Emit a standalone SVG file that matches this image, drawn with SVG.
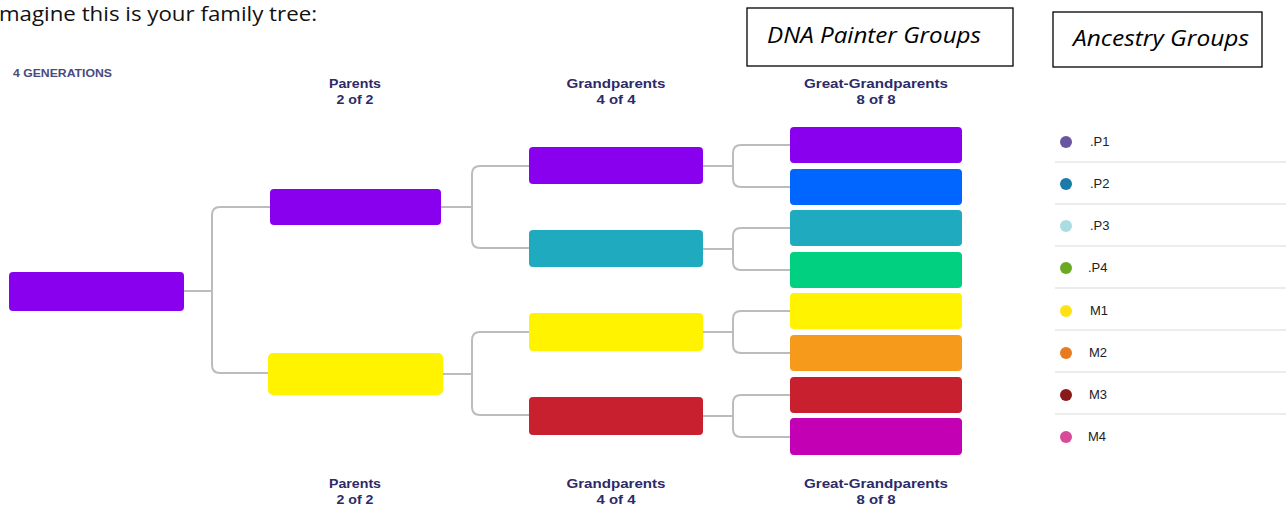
<svg xmlns="http://www.w3.org/2000/svg" width="1286" height="508" viewBox="0 0 1286 508">
<style>
.hdr{font-family:"Liberation Sans",Arial,sans-serif;font-weight:bold;font-size:13px;fill:#2b2b6b;text-anchor:middle}
.box{stroke:none}
.conn{fill:none;stroke:#bcbcbc;stroke-width:2}
.lbl{font-family:"Liberation Sans",Arial,sans-serif;font-size:13px;fill:#222}
.sep{stroke:#e6e6e6;stroke-width:1.5}
.tag{fill:#fff;stroke:#000;stroke-width:1.3}
.tagt{font-family:"Open Sans","Liberation Sans",sans-serif;font-style:italic;font-size:21px;fill:#000;text-anchor:middle}
</style>
<rect width="1286" height="508" fill="#fff"/>
<text x="-1" y="21" font-family="Open Sans, Liberation Sans, sans-serif" font-size="20" fill="#111" textLength="318" lengthAdjust="spacingAndGlyphs">magine this is your family tree:</text>
<text x="13" y="77" font-family="Liberation Sans, Arial, sans-serif" font-weight="bold" font-size="10.5" fill="#4a4a80" textLength="99" lengthAdjust="spacingAndGlyphs">4 GENERATIONS</text>

<g id="header-top">
<text class="hdr" x="355" y="88" textLength="52" lengthAdjust="spacingAndGlyphs">Parents</text><text class="hdr" x="355" y="104" textLength="37" lengthAdjust="spacingAndGlyphs">2 of 2</text>
<text class="hdr" x="616" y="88" textLength="99" lengthAdjust="spacingAndGlyphs">Grandparents</text><text class="hdr" x="616" y="104" textLength="39" lengthAdjust="spacingAndGlyphs">4 of 4</text>
<text class="hdr" x="876" y="88" textLength="144" lengthAdjust="spacingAndGlyphs">Great-Grandparents</text><text class="hdr" x="876" y="104" textLength="39" lengthAdjust="spacingAndGlyphs">8 of 8</text>
</g>
<g id="header-bottom">
<text class="hdr" x="355" y="488" textLength="52" lengthAdjust="spacingAndGlyphs">Parents</text><text class="hdr" x="355" y="504" textLength="37" lengthAdjust="spacingAndGlyphs">2 of 2</text>
<text class="hdr" x="616" y="488" textLength="99" lengthAdjust="spacingAndGlyphs">Grandparents</text><text class="hdr" x="616" y="504" textLength="39" lengthAdjust="spacingAndGlyphs">4 of 4</text>
<text class="hdr" x="876" y="488" textLength="144" lengthAdjust="spacingAndGlyphs">Great-Grandparents</text><text class="hdr" x="876" y="504" textLength="39" lengthAdjust="spacingAndGlyphs">8 of 8</text>
</g>

<g id="tag-dna"><rect class="tag" x="747" y="8" width="266" height="58"/><text class="tagt" x="874" y="43" textLength="214" lengthAdjust="spacingAndGlyphs">DNA Painter Groups</text></g>
<g id="tag-ancestry"><rect class="tag" x="1053" y="12" width="209" height="55"/><text class="tagt" x="1161" y="46" textLength="176" lengthAdjust="spacingAndGlyphs">Ancestry Groups</text></g>

<g id="connectors">
<path class="conn" d="M184 291 H212 M270 207 H220 Q212 207 212 215 V365 Q212 373 220 373 H268"/>
<path class="conn" d="M441 207 H472 M529 166 H480 Q472 166 472 174 V240 Q472 248 480 248 H529"/>
<path class="conn" d="M443 374 H472 M529 332 H480 Q472 332 472 340 V407 Q472 415 480 415 H529"/>
<path class="conn" d="M703 166 H733 M790 145 H741 Q733 145 733 153 V179 Q733 187 741 187 H790"/>
<path class="conn" d="M703 249 H733 M790 228 H741 Q733 228 733 236 V262 Q733 270 741 270 H790"/>
<path class="conn" d="M703 332 H733 M790 311 H741 Q733 311 733 319 V345 Q733 353 741 353 H790"/>
<path class="conn" d="M703 416 H733 M790 395 H741 Q733 395 733 403 V429 Q733 437 741 437 H790"/>
</g>

<g id="root"><rect class="box" x="9" y="272" width="175" height="39" rx="4" fill="#8800ee"/></g>
<g id="parent1"><rect class="box" x="270" y="189" width="171" height="36" rx="4" fill="#8800ee"/></g>
<g id="parent2"><rect class="box" x="268" y="353" width="175" height="42" rx="5" fill="#fff300"/></g>
<g id="gp1"><rect class="box" x="529" y="147" width="174" height="37" rx="4" fill="#8800ee"/></g>
<g id="gp2"><rect class="box" x="529" y="230" width="174" height="37" rx="4" fill="#20aac0"/></g>
<g id="gp3"><rect class="box" x="529" y="313" width="174" height="38" rx="4" fill="#fff300"/></g>
<g id="gp4"><rect class="box" x="529" y="397" width="174" height="38" rx="4" fill="#c8202f"/></g>
<g id="gg1"><rect class="box" x="790" y="127" width="172" height="36" rx="4" fill="#8800ee"/></g>
<g id="gg2"><rect class="box" x="790" y="169" width="172" height="36" rx="4" fill="#0066ff"/></g>
<g id="gg3"><rect class="box" x="790" y="210" width="172" height="36" rx="4" fill="#20aac0"/></g>
<g id="gg4"><rect class="box" x="790" y="252" width="172" height="36" rx="4" fill="#00d080"/></g>
<g id="gg5"><rect class="box" x="790" y="293" width="172" height="36" rx="4" fill="#fff300"/></g>
<g id="gg6"><rect class="box" x="790" y="335" width="172" height="36" rx="4" fill="#f59a1a"/></g>
<g id="gg7"><rect class="box" x="790" y="377" width="172" height="36" rx="4" fill="#c8202f"/></g>
<g id="gg8"><rect class="box" x="790" y="418" width="172" height="37" rx="4" fill="#c400b4"/></g>

<g id="legend">
<line class="sep" x1="1055" y1="162" x2="1286" y2="162"/>
<line class="sep" x1="1055" y1="204" x2="1286" y2="204"/>
<line class="sep" x1="1055" y1="246" x2="1286" y2="246"/>
<line class="sep" x1="1055" y1="288" x2="1286" y2="288"/>
<line class="sep" x1="1055" y1="330" x2="1286" y2="330"/>
<line class="sep" x1="1055" y1="372" x2="1286" y2="372"/>
<line class="sep" x1="1055" y1="414" x2="1286" y2="414"/>
<g id="leg-p1"><circle cx="1066" cy="142" r="6" fill="#6a55a0"/><text class="lbl" x="1090" y="146">.P1</text></g>
<g id="leg-p2"><circle cx="1066" cy="184" r="6" fill="#1a7aa8"/><text class="lbl" x="1090" y="188">.P2</text></g>
<g id="leg-p3"><circle cx="1066" cy="226" r="6" fill="#aadde2"/><text class="lbl" x="1090" y="230">.P3</text></g>
<g id="leg-p4"><circle cx="1066" cy="268" r="6" fill="#6aaa22"/><text class="lbl" x="1088" y="272">.P4</text></g>
<g id="leg-m1"><circle cx="1066" cy="311" r="6" fill="#ffe214"/><text class="lbl" x="1090" y="315">M1</text></g>
<g id="leg-m2"><circle cx="1066" cy="353" r="6" fill="#e87a20"/><text class="lbl" x="1089" y="357">M2</text></g>
<g id="leg-m3"><circle cx="1066" cy="395" r="6" fill="#8a1a1a"/><text class="lbl" x="1089" y="399">M3</text></g>
<g id="leg-m4"><circle cx="1066" cy="437" r="6" fill="#d84a9a"/><text class="lbl" x="1088" y="441">M4</text></g>
</g>
</svg>
